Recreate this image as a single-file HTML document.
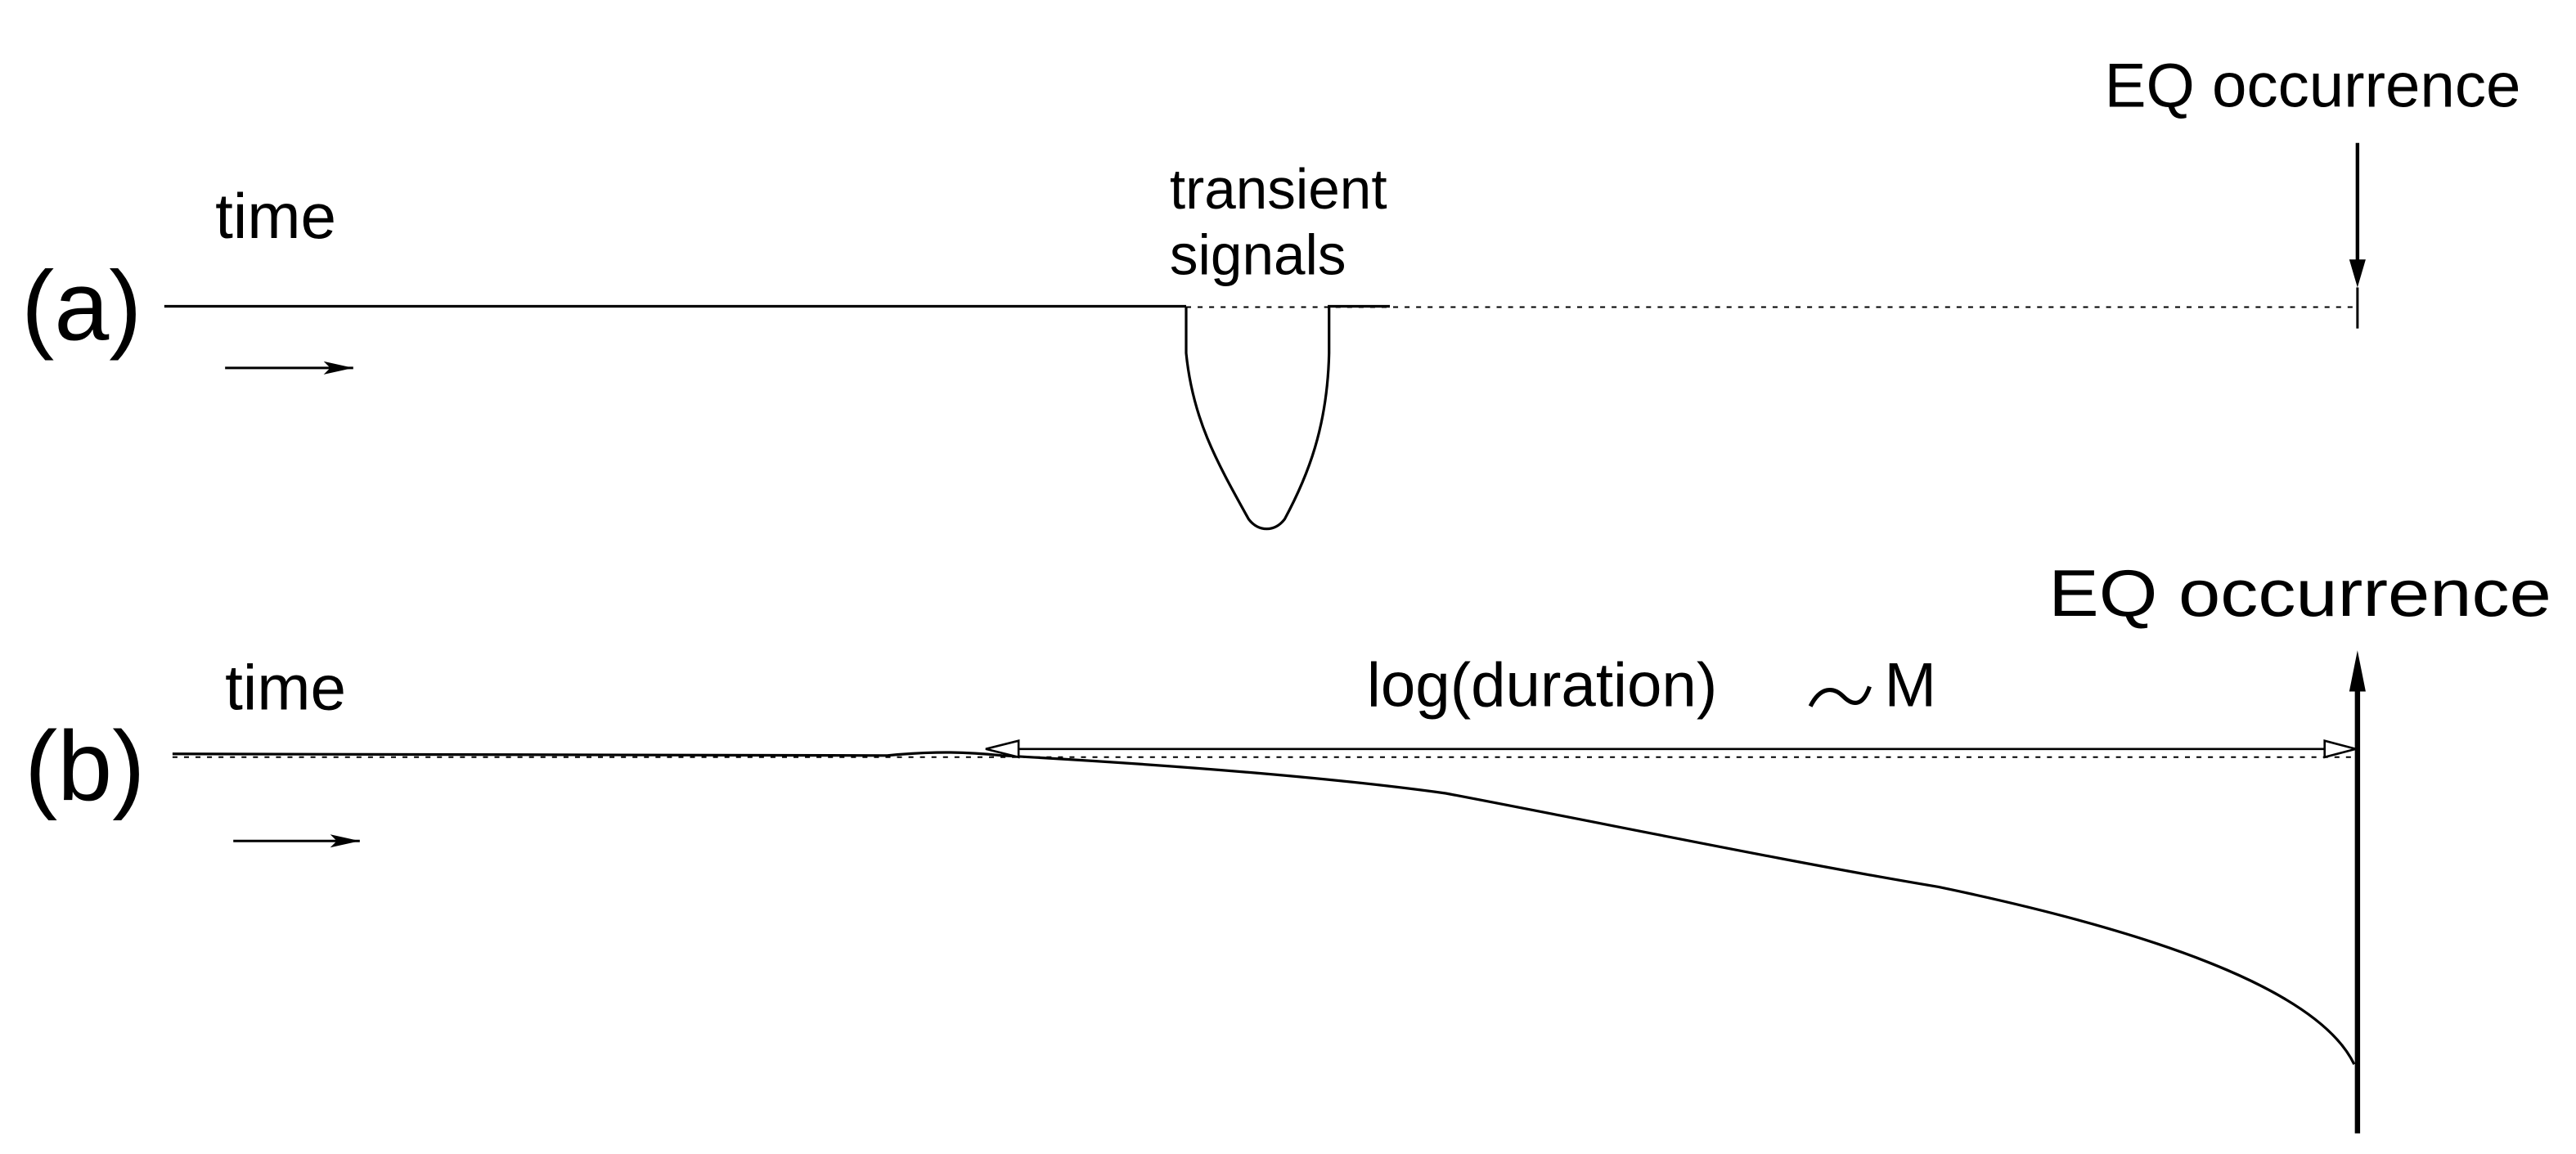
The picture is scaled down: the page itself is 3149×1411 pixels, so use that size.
<!DOCTYPE html>
<html><head><meta charset="utf-8"><style>
html,body{margin:0;padding:0;background:#fff;}
svg{display:block;}
text{font-family:"Liberation Sans",sans-serif;fill:#000;}
</style></head><body>
<svg width="3149" height="1411" viewBox="0 0 1568 702.6" xmlns="http://www.w3.org/2000/svg">
<defs>
<marker id="sb" markerWidth="18" markerHeight="8" refX="18" refY="4" orient="auto" markerUnits="userSpaceOnUse"><path d="M0,0 L18,4 L0,8 L4,4 Z" fill="#000"/></marker>
</defs>
<!-- (a) -->
<text x="13" y="207" font-size="60">(a)</text>
<text x="131" y="145" font-size="39">time</text>
<line x1="137" y1="224" x2="215" y2="224" stroke="#000" stroke-width="1.5" marker-end="url(#sb)"/>
<line x1="100" y1="186.5" x2="722" y2="186.5" stroke="#000" stroke-width="1.6"/>
<line x1="722" y1="187" x2="1435" y2="187" stroke="#000" stroke-width="1" stroke-dasharray="3,4"/>
<path d="M722,186.5 L722,215 C726,255 740,280 760,316 C766,324 776,324 782,316 C796,290 808,260 809,215 L809,186.5 L846,186.5" fill="none" stroke="#000" stroke-width="1.6"/>
<text x="712" y="127" font-size="34.5">transient</text>
<text x="712" y="167" font-size="34.5">signals</text>
<text x="1281" y="65" font-size="38">EQ occurrence</text>
<line x1="1435" y1="87" x2="1435" y2="160" stroke="#000" stroke-width="2.2"/>
<path d="M1435,175 L1430,158 L1440,158 Z" fill="#000"/>
<line x1="1435" y1="175" x2="1435" y2="200" stroke="#000" stroke-width="1.5"/>
<!-- (b) -->
<text x="15" y="487" font-size="60">(b)</text>
<text x="137" y="432" font-size="39">time</text>
<line x1="142" y1="512" x2="219" y2="512" stroke="#000" stroke-width="1.5" marker-end="url(#sb)"/>
<line x1="105" y1="461" x2="1435" y2="461" stroke="#000" stroke-width="1" stroke-dasharray="3,4"/>
<path d="M105,459 L540,460 C570,457 590,458 610,460 C700,465 800,472 880,483 C980,502 1090,525 1180,540 C1300,565 1410,600 1433,648" fill="none" stroke="#000" stroke-width="1.6"/>
<line x1="620" y1="456" x2="1415" y2="456" stroke="#000" stroke-width="1.3"/>
<path d="M600,456 L620,451 L620,461 Z" fill="#fff" stroke="#000" stroke-width="1.3"/>
<path d="M1434,456 L1415,451 L1415,461 Z" fill="#fff" stroke="#000" stroke-width="1.3"/>
<text x="832" y="430" font-size="38">log(duration)</text>
<path d="M1102,430 C1108,418 1116,418 1122,424 C1128,430 1134,430 1138,418" fill="none" stroke="#000" stroke-width="2.6"/>
<text x="1147" y="430" font-size="38">M</text>
<text x="1247" y="375" font-size="40" textLength="306" lengthAdjust="spacingAndGlyphs">EQ occurrence</text>
<line x1="1435" y1="420" x2="1435" y2="690" stroke="#000" stroke-width="3.2"/>
<path d="M1435,396 L1430,421 L1440,421 Z" fill="#000"/>
</svg>
</body></html>
